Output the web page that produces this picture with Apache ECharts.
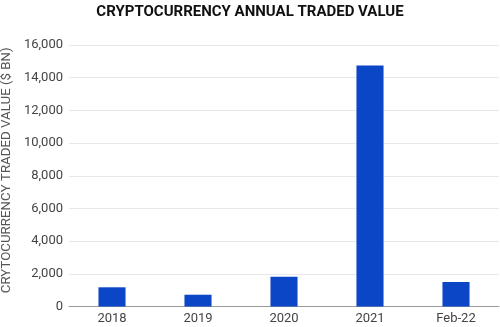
<!DOCTYPE html>
<html><head><meta charset="utf-8">
<script src="https://cdn.jsdelivr.net/npm/echarts@6/dist/echarts.min.js"></script>
<style>html,body{margin:0;padding:0;background:#fff}#c{width:500px;height:327px}</style>
</head><body><div id="c"></div>
<script>
const categories = ['2018', '2019', '2020', '2021', 'Feb-22'];
const tradedValue = [1175, 720, 1820, 14750, 1500];
const yTicks = { min: 0, max: 16000, interval: 2000 };

const chart = echarts.init(document.getElementById('c'), null, { renderer: 'canvas' });
chart.setOption({
  animation: false,
  backgroundColor: '#fff',
  title: {
    text: 'CRYPTOCURRENCY ANNUAL TRADED VALUE',
    left: 'center', top: 0,
    textStyle: { fontFamily: 'Roboto', fontWeight: 'bold', fontSize: 15, color: '#111' }
  },
  grid: { left: 69, right: 1, top: 45, bottom: 20.5, containLabel: false, outerBoundsMode: 'none' },
  xAxis: {
    type: 'category', data: categories,
    axisLine: { lineStyle: { color: '#9a9a9a' } },
    axisTick: { show: false },
    axisLabel: { fontFamily: 'Roboto', fontSize: 13, color: '#444', margin: 6 }
  },
  yAxis: {
    type: 'value', min: yTicks.min, max: yTicks.max, interval: yTicks.interval,
    name: 'CRYTOCURRENCY TRADED VALUE ($ BN)',
    nameLocation: 'middle', nameGap: 55,
    nameTextStyle: { fontFamily: 'Roboto', fontSize: 13.3, color: '#555', padding: [0, 0, 0, 11] },
    axisLine: { show: false }, axisTick: { show: false },
    splitLine: { lineStyle: { color: '#e8e8e8' } },
    axisLabel: {
      fontFamily: 'Roboto', fontSize: 13, color: '#444', margin: 6,
      formatter: v => v.toLocaleString('en-US')
    }
  },
  series: [{
    type: 'bar', data: tradedValue, barWidth: '31.5%',
    itemStyle: { color: '#0b46c6' }
  }]
});
</script></body></html>
